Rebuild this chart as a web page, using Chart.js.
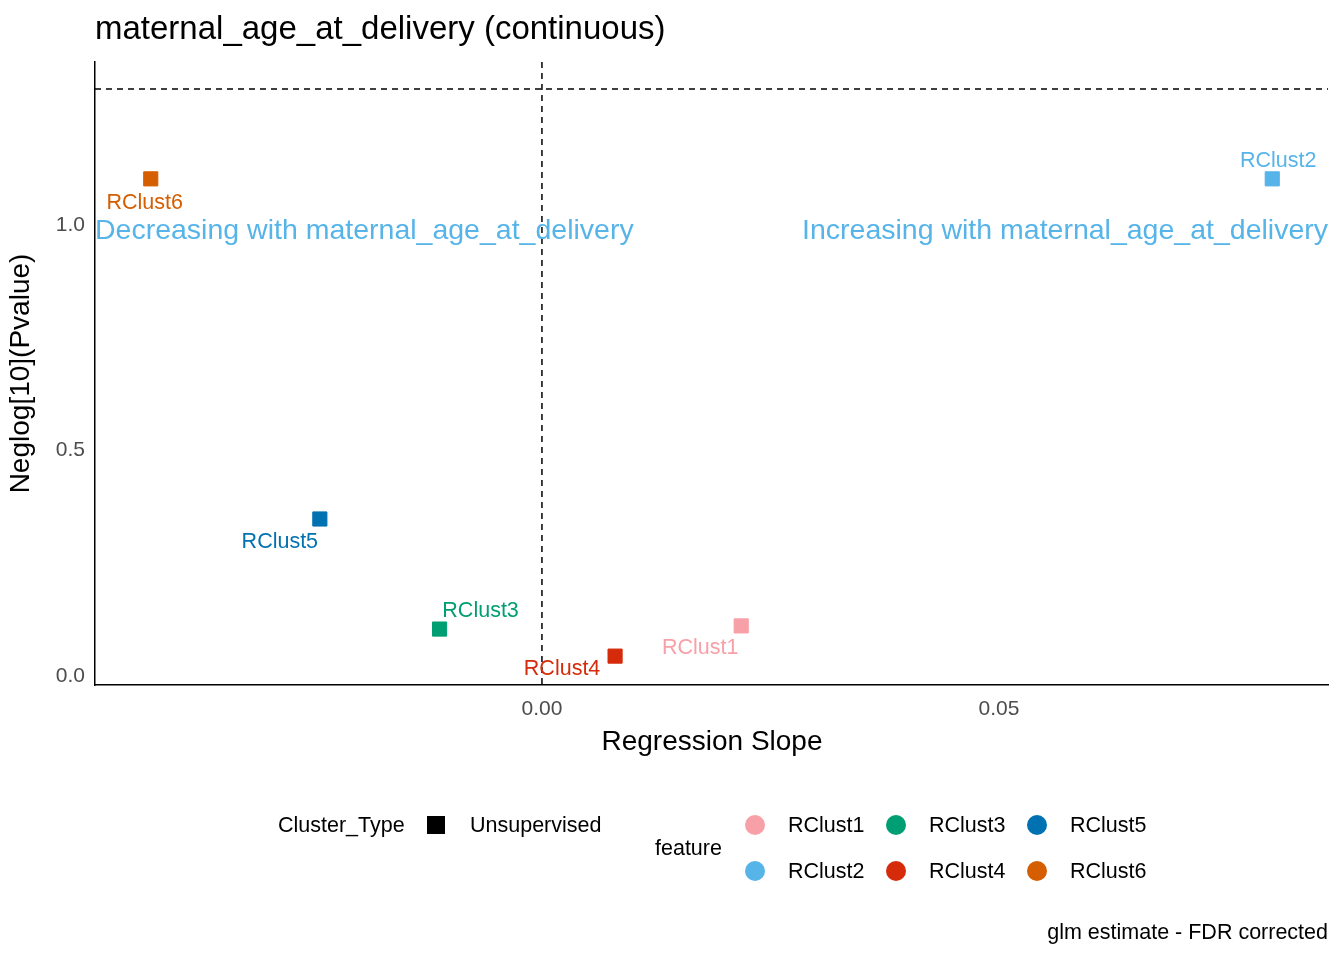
<!DOCTYPE html>
<html>
<head>
<meta charset="utf-8">
<script src="https://cdn.jsdelivr.net/npm/chart.js@4/dist/chart.umd.min.js"></script>
<style>
  body { margin: 0; background: #fff; }
  canvas { display: block; }
</style>
</head>
<body>
<canvas id="volcano" width="1344" height="960"></canvas>
<script>
// data
const clusters = ['RClust1', 'RClust2', 'RClust3', 'RClust4', 'RClust5', 'RClust6'];
const slopes = [0.0218, 0.0799, -0.0112, 0.0080, -0.0243, -0.0428];
const negLogP = [0.111, 1.102, 0.104, 0.044, 0.348, 1.102];
const clusterColors = ['#F8A0A8', '#56B4E9', '#009E73', '#D52B0A', '#0072B2', '#D55E00'];
// label nudges in px (dx, dy from point centre)
const labelOffsets = [[-41, 22], [6, -18], [41, -18], [-53, 13], [-40, 23], [-6, 24]];
const xTicks = [0.00, 0.05];
const yTicks = [0.0, 0.5, 1.0];
const sigLine = 1.30103;

const FONT = 'Arial, "Liberation Sans", sans-serif';

const overlay = {
  id: 'overlay',
  afterDatasetsDraw(chart) {
    const { ctx, chartArea, scales } = chart;
    const x = scales.x, y = scales.y;
    ctx.save();
    // dashed reference lines
    ctx.setLineDash([6, 5]);
    ctx.strokeStyle = '#000';
    ctx.lineWidth = 1.5;
    ctx.beginPath();
    ctx.moveTo(chartArea.left, y.getPixelForValue(sigLine));
    ctx.lineTo(chartArea.right, y.getPixelForValue(sigLine));
    ctx.moveTo(x.getPixelForValue(0), chartArea.top);
    ctx.lineTo(x.getPixelForValue(0), chartArea.bottom);
    ctx.stroke();
    ctx.setLineDash([]);

    // direction annotations
    ctx.font = '28.5px ' + FONT;
    ctx.fillStyle = '#56B4E9';
    ctx.textBaseline = 'middle';
    const ya = y.getPixelForValue(1.0) + 6;
    ctx.textAlign = 'left';
    ctx.fillText('Decreasing with maternal_age_at_delivery', chartArea.left, ya);
    ctx.textAlign = 'right';
    ctx.fillText('Increasing with maternal_age_at_delivery', chartArea.right, ya);

    // point labels
    ctx.font = '21.5px ' + FONT;
    ctx.textAlign = 'center';
    clusters.forEach((c, i) => {
      ctx.fillStyle = clusterColors[i];
      ctx.fillText(c, x.getPixelForValue(slopes[i]) + labelOffsets[i][0],
        y.getPixelForValue(negLogP[i]) + labelOffsets[i][1]);
    });

    // title, axis title, caption
    ctx.fillStyle = '#000';
    ctx.textAlign = 'left';
    ctx.font = '33px ' + FONT;
    ctx.fillText('maternal_age_at_delivery (continuous)', 95, 30);
    ctx.textAlign = 'center';
    ctx.font = '28px ' + FONT;
    ctx.fillText('Regression Slope', 712, 742);
    ctx.textAlign = 'right';
    ctx.font = '21.5px ' + FONT;
    ctx.fillText('glm estimate - FDR corrected', 1328, 933);

    // legends
    ctx.textAlign = 'left';
    ctx.fillText('Cluster_Type', 278, 826);
    ctx.fillRect(427, 816, 18, 18);
    ctx.fillText('Unsupervised', 470, 826);
    ctx.fillText('feature', 655, 849);
    const legX = [755, 896, 1037], legY = [825, 871];
    clusters.forEach((c, i) => {
      const col = Math.floor(i / 2), row = i % 2;
      ctx.fillStyle = clusterColors[i];
      ctx.beginPath();
      ctx.arc(legX[col], legY[row], 10, 0, Math.PI * 2);
      ctx.fill();
      ctx.fillStyle = '#000';
      ctx.fillText(c, legX[col] + 33, legY[row] + 1);
    });
    ctx.restore();
  }
};

new Chart(document.getElementById('volcano'), {
  type: 'scatter',
  data: {
    datasets: [{
      data: slopes.map((s, i) => ({ x: s, y: negLogP[i] })),
      backgroundColor: clusterColors,
      borderColor: clusterColors,
      pointStyle: 'rect',
      pointRadius: 10,
      pointHoverRadius: 10,
    }],
  },
  options: {
    responsive: false,
    animation: false,
    layout: { padding: { top: 62, right: 16, left: 0, bottom: 0 } },
    plugins: { legend: { display: false }, tooltip: { enabled: false } },
    scales: {
      x: {
        type: 'linear',
        min: -0.0489,
        max: 0.0860,
        afterBuildTicks: (s) => { s.ticks = xTicks.map((v) => ({ value: v })); },
        afterFit: (s) => { s.height = 960 - 685; },
        grid: { display: false, drawTicks: true, tickLength: 6, tickColor: '#333' },
        border: { color: '#000', width: 1.5 },
        ticks: { color: '#4d4d4d', font: { size: 21, family: FONT }, padding: 6, callback: (v) => v.toFixed(2) },
      },
      y: {
        type: 'linear',
        min: -0.02,
        max: 1.361,
        afterBuildTicks: (s) => { s.ticks = yTicks.map((v) => ({ value: v })); },
        afterFit: (s) => { s.width = 95; },
        grid: { display: false, drawTicks: true, tickLength: 6, tickColor: '#333' },
        border: { color: '#000', width: 1.5 },
        ticks: { color: '#4d4d4d', font: { size: 21, family: FONT }, padding: 4, callback: (v) => v.toFixed(1) },
        title: { display: true, text: 'Neglog[10](Pvalue)', color: '#000', font: { size: 28, family: FONT }, padding: { bottom: 2 } },
      },
    },
  },
  plugins: [overlay],
});
</script>
</body>
</html>
